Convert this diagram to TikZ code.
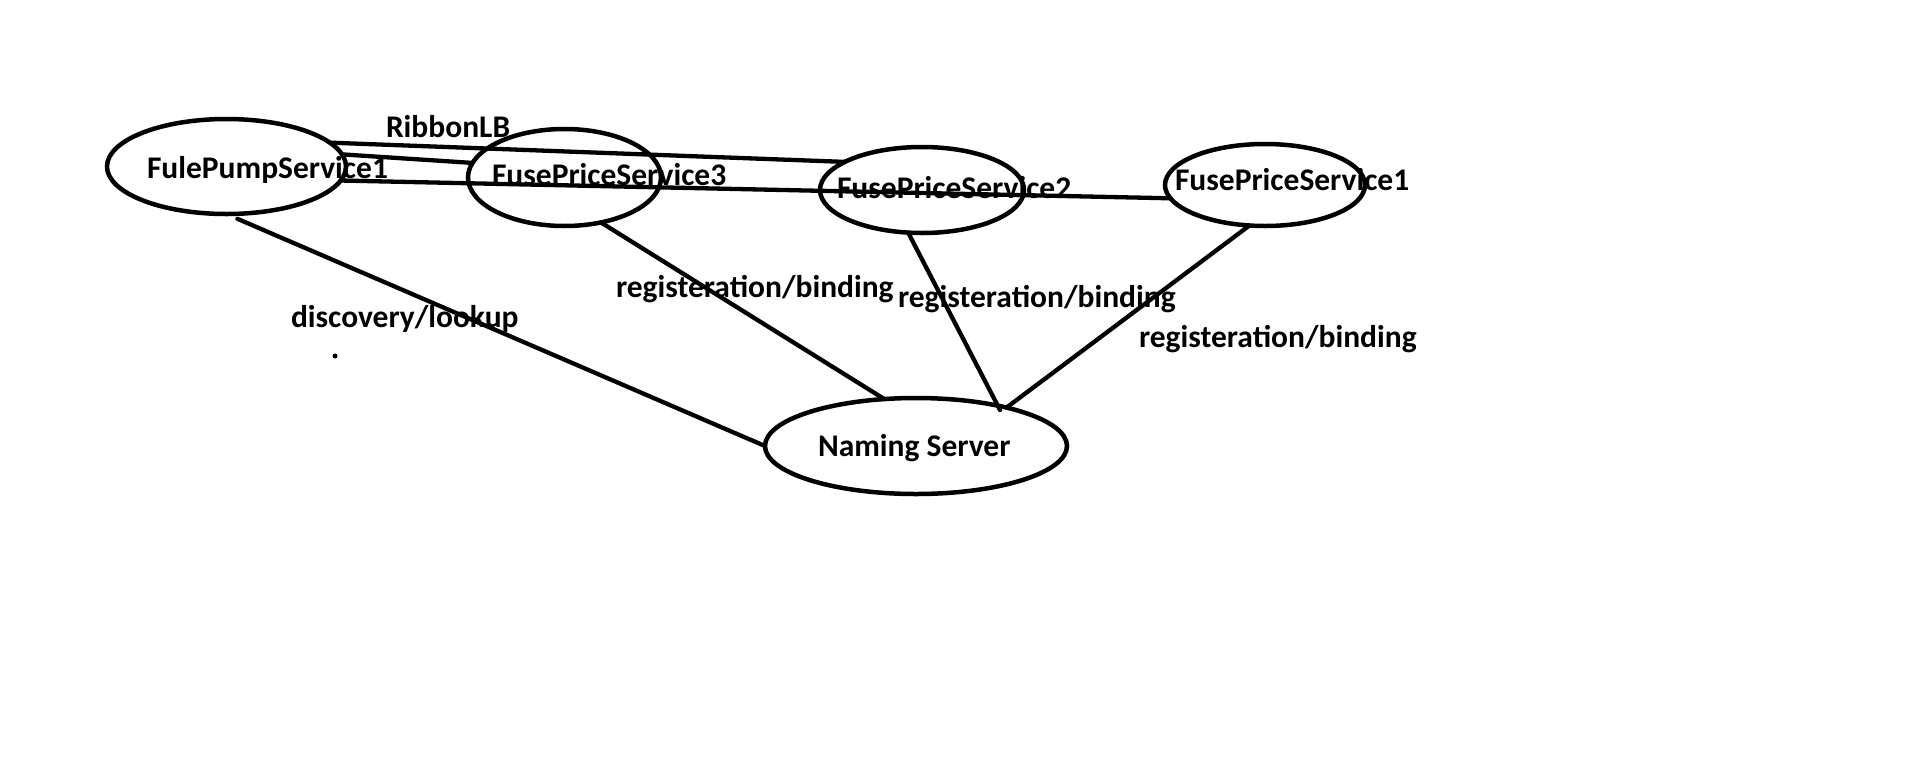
\documentclass[tikz,border=0pt]{standalone}
\usepackage{fontspec}
\setmainfont{Carlito}
\usetikzlibrary{shapes.geometric,calc}
\tikzset{
  svc/.style={ellipse, draw=black, line width=4.5pt, inner sep=0pt, outer sep=0pt},
  lbl/.style={anchor=base west, inner sep=0pt, outer sep=0pt, font=\fontsize{31.5}{36}\selectfont\bfseries},
  conn/.style={draw=black, line width=4.3pt, line cap=round},
}
\begin{document}
\begin{tikzpicture}[x=1pt,y=-1pt]
\useasboundingbox[fill=white] (0,0) rectangle (1906,761);
% ellipses
\node[svc, minimum width=239pt, minimum height=95pt] (fp) at (226.5,166.5) {};
\node[svc, minimum width=193pt, minimum height=97pt] (s3) at (564.5,177.5) {};
\node[svc, minimum width=204pt, minimum height=86pt] (s2) at (922,190) {};
\node[svc, minimum width=200pt, minimum height=82pt] (s1) at (1265,185) {};
\node[svc, minimum width=302pt, minimum height=96pt] (ns) at (916,446) {};
% connectors
\coordinate (nsin) at (1000,410);
\draw[conn] (fp.13) -- (s2.160);
\draw[conn] (fp.6) -- (s3.171);
\draw[conn] (fp.-7) -- (s1.188);
\draw[conn] ([yshift=-5pt]fp.-77) -- (ns.180);
\draw[conn] (s3.-51) -- (ns.124);
\draw[conn] (s2.-108) -- (nsin);
\draw[conn] (s1.-111) -- (ns.23);
% labels
\node[lbl] (tfp) at (147,178) {FulePumpService1};
\node[lbl] (ts3) at (492,185) {FusePriceService3};
\node[lbl] (ts2) at (837,198) {FusePriceService2};
\node[lbl] (ts1) at (1175,190) {FusePriceService1};
\node[lbl] (tns) at (818,456) {Naming Server};
\node[lbl] (trib) at (386,137) {RibbonLB};
\node[lbl] (tdisc) at (291,327) {discovery/lookup};
\node[lbl] (treg1) at (616,297) {registeration/binding};
\node[lbl] (treg2) at (898,307) {registeration/binding};
\node[lbl] (treg3) at (1139,347) {registeration/binding};
\fill[black] (335,356) circle (2.5pt);
\end{tikzpicture}
\end{document}
